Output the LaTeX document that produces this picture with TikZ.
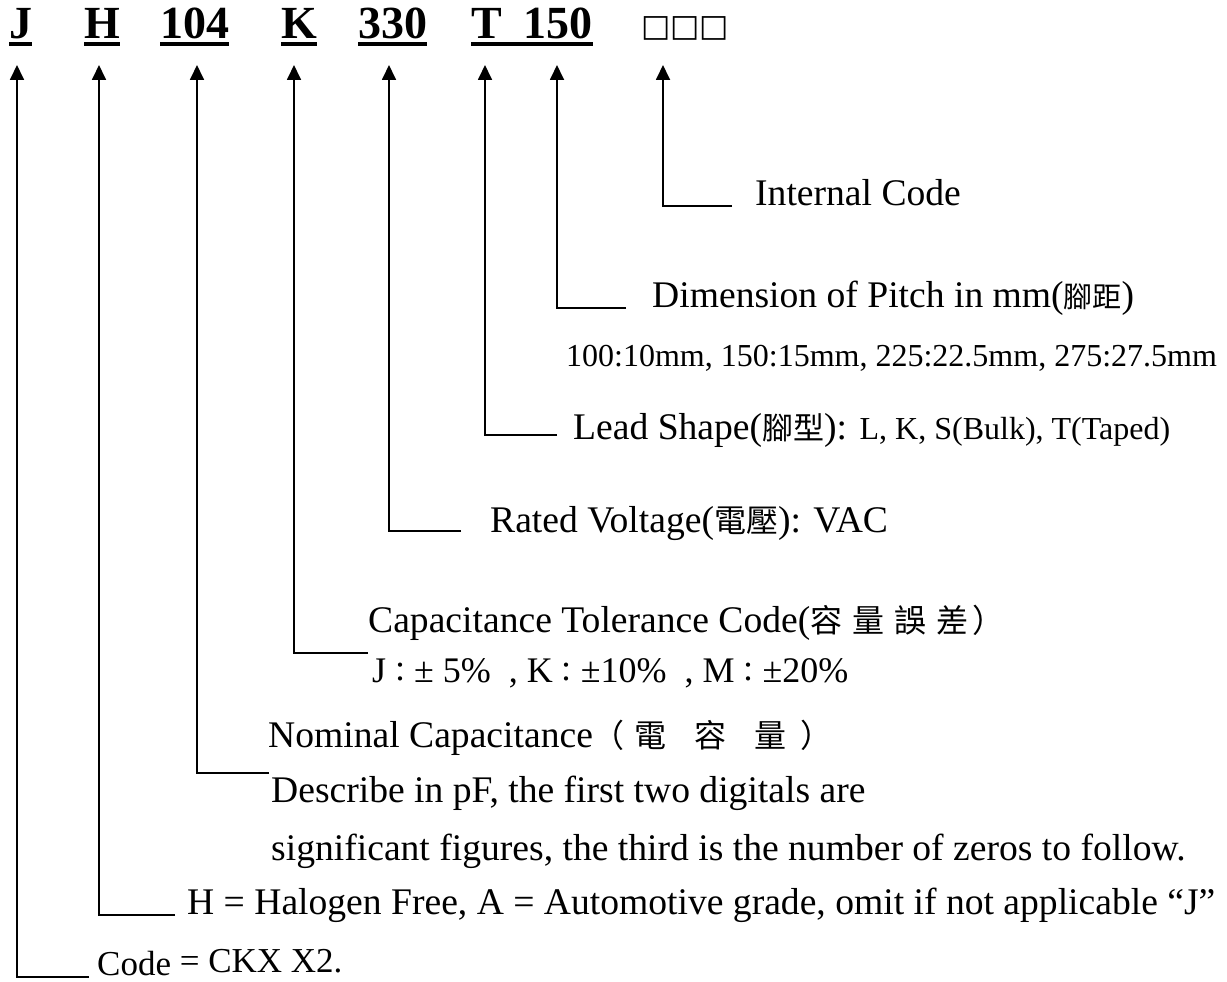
\documentclass[tikz,border=0pt]{standalone}
\usepackage{fontspec}
\setmainfont{Liberation Serif}
\newfontfamily\cjk{Noto Sans CJK TC}
\newfontfamily\dejavu{DejaVu Sans}
\usetikzlibrary{arrows.meta,calc}
\newcommand{\cj}[2]{{\cjk\fontsize{#1}{#1}\selectfont #2}}
\begin{document}
\begin{tikzpicture}[x=1pt,y=1pt,
  code/.style={inner sep=0pt,anchor=base west,font=\fontsize{46}{50}\selectfont\bfseries},
  lbl/.style={inner sep=0pt,anchor=base west,text depth=0pt,font=\fontsize{37.6}{40}\selectfont},
  lblsm/.style={inner sep=0pt,anchor=base west,text depth=0pt,font=\fontsize{32}{36}\selectfont},
  conn/.style={line width=1.8pt,-{Triangle[length=15pt,width=14pt]}},
  uline/.style={line width=4pt}]
\useasboundingbox (0,0) rectangle (1227,-982);
% title codes
\node[code] (cJ) at (9,-39) {J};
\node[code] (cH) at (84,-39) {H};
\node[code] (c104) at (160,-39) {104};
\node[code] (cK) at (281,-39) {K};
\node[code] (c330) at (358,-39) {330};
\node[code] (cT) at (471,-39) {T\hspace{22pt}150};
\node[inner sep=0pt,anchor=base west,font=\dejavu\fontsize{31}{34}\selectfont] (cX) at (641,-37) {□□□};
\foreach \n in {cJ,cH,c104,cK,c330,cT}{
  \draw[uline] ($(\n.base west)+(0,-5)$) -- ($(\n.base east)+(0,-5)$);
}
% arrow tips
\coordinate (tJ) at (17,-65);
\coordinate (tH) at (99,-65);
\coordinate (t104) at (197,-65);
\coordinate (tK) at (294,-65);
\coordinate (t330) at (389,-65);
\coordinate (tT) at (485,-65);
\coordinate (t150) at (557,-65);
\coordinate (tX) at (663,-65);
% corner ends
\coordinate (eJ) at (89,-977);
\coordinate (eH) at (175,-915);
\coordinate (e104) at (269,-773);
\coordinate (eK) at (368,-653);
\coordinate (e330) at (461,-531);
\coordinate (eT) at (557,-435);
\coordinate (e150) at (626,-308);
\coordinate (eX) at (732,-206);
% labels
\node[lbl] (lX) at (755,-205) {Internal Code};
\node[lbl] (l150) at (652,-307) {Dimension of Pitch in mm(\cj{29}{腳距})};
\node[lblsm] (l150b) at (566,-366) {100:10mm, 150:15mm, 225:22.5mm, 275:27.5mm};
\node[lbl] (lT) at (573,-439) {Lead Shape(\cj{31}{腳型}): {\fontsize{32}{34}\selectfont L, K, S(Bulk), T(Taped)}};
\node[lbl] (l330) at (490,-532) {Rated Voltage(\cj{32}{電壓}): VAC};
\node[lbl] (lK) at (368,-632) {Capacitance Tolerance Code(\cj{32}{容\hspace{10pt}量\hspace{10pt}誤\hspace{10pt}差\hspace{4pt}）}};
\node[lbl] (lKb) at (372,-682) {\fontsize{36}{38}\selectfont J\cj{28}{：}± 5\%\ \ , K\cj{28}{：}±10\%\ \ , M\cj{28}{：}±20\%};
\node[lbl] (l104) at (268,-747) {Nominal Capacitance\cj{32}{（\hspace{10pt}電\hspace{28pt}容\hspace{28pt}量\hspace{14pt}）}};
\node[lbl] (l104b) at (271,-802) {Describe in pF, the first two digitals are};
\node[lbl] (l104c) at (271,-860) {significant figures, the third is the number of zeros to follow.};
\node[lbl] (lH) at (187,-914) {H = Halogen Free, A = Automotive grade, omit if not applicable “J”};
\node[lbl,font=\fontsize{35}{38}\selectfont] (lJ) at (97,-975) {Code\raisebox{3pt}{ = CKX X2.}};
% connectors
\foreach \k in {J,H,104,K,330,T,150,X}{
  \draw[conn] (e\k) -| (t\k);
}
\end{tikzpicture}
\end{document}
